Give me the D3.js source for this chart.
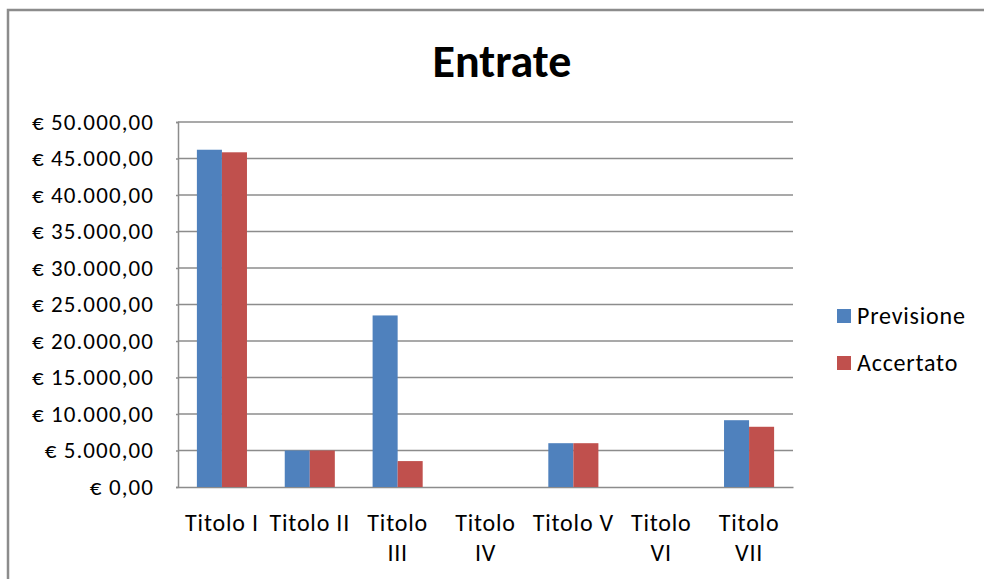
<!DOCTYPE html>
<html>
<head>
<meta charset="utf-8">
<script src="https://cdn.jsdelivr.net/npm/d3@7"></script>
<style>
body { margin: 0; background: #fff; }
text { font-family: Carlito, Lato, "Open Sans", sans-serif; fill: #000; }
</style>
</head>
<body>
<svg id="chart" width="984" height="579"></svg>
<script>
var categories = ["Titolo I", "Titolo II", "Titolo III", "Titolo IV", "Titolo V", "Titolo VI", "Titolo VII"];
var tickLines = [["Titolo I"], ["Titolo II"], ["Titolo", "III"], ["Titolo", "IV"], ["Titolo V"], ["Titolo", "VI"], ["Titolo", "VII"]];
var previsione = [46200, 5000, 23500, 0, 6000, 0, 9150];
var accertato = [45850, 5000, 3550, 0, 6000, 0, 8250];
var seriesNames = ["Previsione", "Accertato"];
var yTicks = [0, 5000, 10000, 15000, 20000, 25000, 30000, 35000, 40000, 45000, 50000];

var colors = ["#4F81BD", "#C0504D"];

var svg = d3.select("#chart");

// cornice esterna
svg.append("rect")
    .attr("x", 8).attr("y", 10)
    .attr("width", 1000).attr("height", 600)
    .attr("fill", "none")
    .attr("stroke", "#8c8c8c")
    .attr("stroke-width", 2.5);

svg.append("text")
    .attr("x", 502).attr("y", 77)
    .attr("text-anchor", "middle")
    .style("font-size", "46px")
    .style("font-weight", "bold")
    .text("Entrate");

var pLeft = 178, pRight = 793, pTop = 122, pBottom = 487;

var x = d3.scaleBand().domain(categories).range([pLeft, pRight]).paddingInner(0.43).paddingOuter(0.215);
var xs = d3.scaleBand().domain(seriesNames).range([0, x.bandwidth()]);
var y = d3.scaleLinear().domain([0, 50000]).range([pBottom, pTop]);

var fmt = function (v) {
    var s = d3.format(",.2f")(v).replace(/,/g, "#").replace(".", ",").replace(/#/g, ".");
    return "\u20ac " + s;
};

// griglia
svg.append("g").selectAll("line").data(yTicks.slice(1)).enter()
    .append("line")
    .attr("x1", pLeft).attr("x2", pRight)
    .attr("y1", d => y(d)).attr("y2", d => y(d))
    .attr("stroke", "#8c8c8c").attr("stroke-width", 1.5);

var yAxis = svg.append("g")
    .attr("transform", "translate(" + pLeft + ",0)")
    .call(d3.axisLeft(y).tickValues(yTicks).tickFormat(fmt).tickSize(2).tickPadding(22));
yAxis.select(".domain").attr("stroke", "#8c8c8c").attr("stroke-width", 1.5);
yAxis.selectAll(".tick line").attr("stroke", "#8c8c8c").attr("stroke-width", 1.5);
yAxis.selectAll("text")
    .style("font-size", "23px")
    .style("letter-spacing", "1.1px")
    .style("font-family", "Carlito, Lato, 'Open Sans', sans-serif");

var xAxis = svg.append("g")
    .attr("transform", "translate(0," + pBottom + ")")
    .call(d3.axisBottom(x).tickSize(0).tickFormat(""));
xAxis.select(".domain").attr("stroke", "#8c8c8c").attr("stroke-width", 1.5);

xAxis.selectAll(".tick").each(function (d, i) {
    var t = d3.select(this).append("text")
        .attr("text-anchor", "middle")
        .attr("y", 44)
        .style("font-size", "24px")
        .style("letter-spacing", "0.8px")
        .style("font-family", "Carlito, Lato, 'Open Sans', sans-serif")
        .attr("fill", "#000");
    tickLines[i].forEach(function (line, j) {
        t.append("tspan").attr("x", 0).attr("dy", j === 0 ? 0 : 30).text(line);
    });
});

var data = [previsione, accertato];
seriesNames.forEach(function (name, si) {
    svg.append("g").selectAll("rect").data(data[si]).enter()
        .append("rect")
        .attr("x", (d, i) => x(categories[i]) + xs(name))
        .attr("width", xs.bandwidth())
        .attr("y", d => y(d))
        .attr("height", d => y(0) - y(d))
        .attr("fill", colors[si]);
});

// legenda
var legend = svg.append("g").attr("transform", "translate(837,309)");
seriesNames.forEach(function (name, i) {
    var g = legend.append("g").attr("transform", "translate(0," + (i * 47) + ")");
    g.append("rect").attr("width", 14).attr("height", 14).attr("fill", colors[i]);
    g.append("text").attr("x", 20).attr("y", 15)
        .style("font-size", "24px")
        .style("letter-spacing", "0.8px")
        .text(name);
});
</script>
</body>
</html>
